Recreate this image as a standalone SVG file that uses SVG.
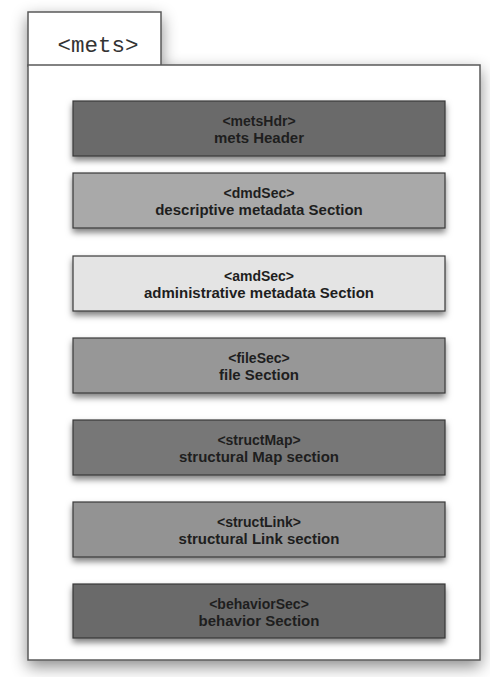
<svg xmlns="http://www.w3.org/2000/svg" width="490" height="677" viewBox="0 0 490 677">
<defs>
<filter id="fshadow" x="-20%" y="-20%" width="140%" height="140%">
<feDropShadow dx="0" dy="6" stdDeviation="8" flood-color="#000" flood-opacity="0.45"/>
</filter>
<filter id="bshadow" x="-10%" y="-30%" width="120%" height="180%">
<feDropShadow dx="0" dy="4" stdDeviation="3" flood-color="#000" flood-opacity="0.5"/>
</filter>
</defs>
<style>
.frame{fill:#ffffff;stroke:#5a5a5a;stroke-width:1.5}
.box{stroke:#3a3a3a;stroke-width:1.2}
.t1{font-family:"Liberation Sans",Arial,sans-serif;font-size:14px;font-weight:bold;fill:#1e1e1e;text-anchor:middle}
.t2{font-family:"Liberation Sans",Arial,sans-serif;font-size:15px;font-weight:bold;fill:#1e1e1e;text-anchor:middle}
.tab{font-family:"Liberation Mono","Courier New",monospace;font-size:22.5px;fill:#333;text-anchor:middle}
</style>
<rect width="490" height="677" fill="#ffffff"/>
<g id="mets" filter="url(#fshadow)">
<rect class="frame" x="28" y="12" width="133" height="54"/>
<rect class="frame" x="28" y="65" width="452" height="595"/>
</g>
<text class="tab" x="98" y="52">&lt;mets&gt;</text>
<g id="metsHdr">
<rect class="box" x="73" y="101" width="372" height="55" fill="#6b6b6b" filter="url(#bshadow)"/>
<text class="t1" x="259" y="126">&lt;metsHdr&gt;</text>
<text class="t2" x="259" y="143">mets Header</text>
</g>
<g id="dmdSec">
<rect class="box" x="73" y="173" width="372" height="55" fill="#a9a9a9" filter="url(#bshadow)"/>
<text class="t1" x="259" y="198">&lt;dmdSec&gt;</text>
<text class="t2" x="259" y="215">descriptive metadata Section</text>
</g>
<g id="amdSec">
<rect class="box" x="73" y="256" width="372" height="55" fill="#e4e4e4" filter="url(#bshadow)"/>
<text class="t1" x="259" y="281">&lt;amdSec&gt;</text>
<text class="t2" x="259" y="298">administrative metadata Section</text>
</g>
<g id="fileSec">
<rect class="box" x="73" y="338" width="372" height="55" fill="#979797" filter="url(#bshadow)"/>
<text class="t1" x="259" y="363">&lt;fileSec&gt;</text>
<text class="t2" x="259" y="380">file Section</text>
</g>
<g id="structMap">
<rect class="box" x="73" y="420" width="372" height="55" fill="#777777" filter="url(#bshadow)"/>
<text class="t1" x="259" y="445">&lt;structMap&gt;</text>
<text class="t2" x="259" y="462">structural Map section</text>
</g>
<g id="structLink">
<rect class="box" x="73" y="502" width="372" height="55" fill="#939393" filter="url(#bshadow)"/>
<text class="t1" x="259" y="527">&lt;structLink&gt;</text>
<text class="t2" x="259" y="544">structural Link section</text>
</g>
<g id="behaviorSec">
<rect class="box" x="73" y="584" width="372" height="54" fill="#6a6a6a" filter="url(#bshadow)"/>
<text class="t1" x="259" y="609">&lt;behaviorSec&gt;</text>
<text class="t2" x="259" y="626">behavior Section</text>
</g>
<g id="connectors"></g>
</svg>
